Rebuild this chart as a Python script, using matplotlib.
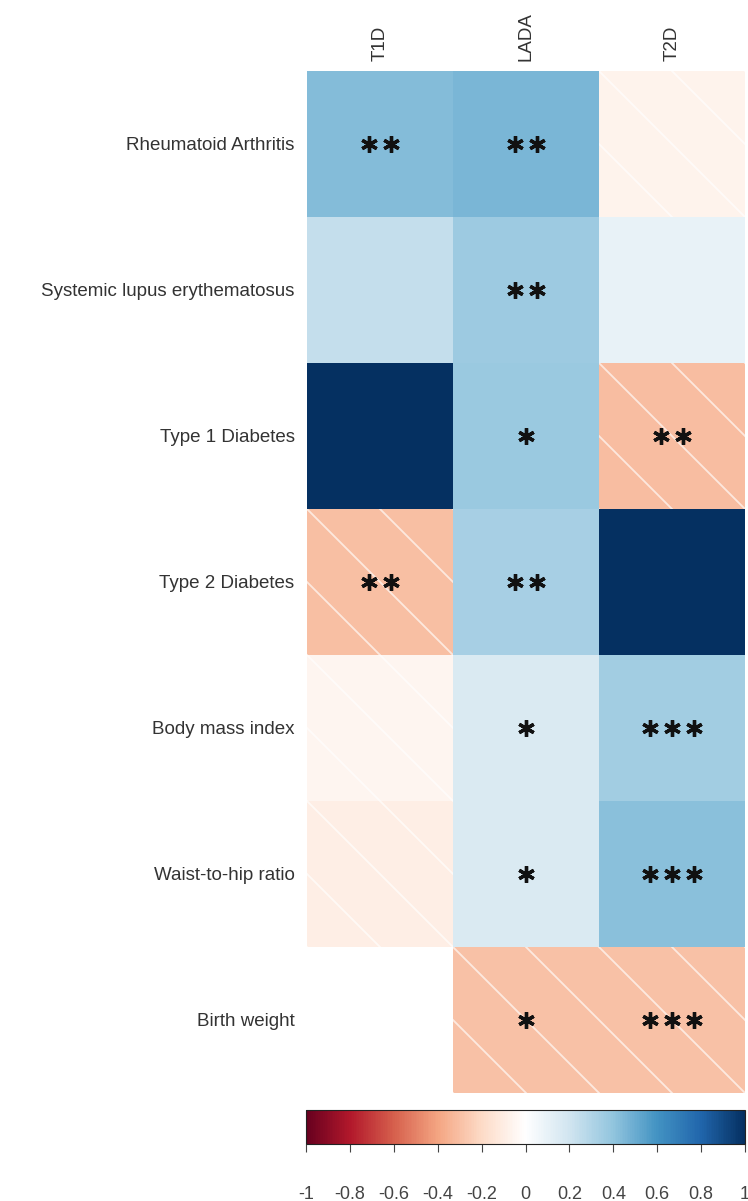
"""Genetic correlation heatmap of diabetes subtypes against related traits."""

import matplotlib.pyplot as plt
import numpy as np
from matplotlib.colors import LinearSegmentedColormap
from matplotlib.patches import Rectangle

plt.rcParams["font.family"] = ["Liberation Sans", "DejaVu Sans"]

traits = [
    "Rheumatoid Arthritis",
    "Systemic lupus erythematosus",
    "Type 1 Diabetes",
    "Type 2 Diabetes",
    "Body mass index",
    "Waist-to-hip ratio",
    "Birth weight",
]
groups = ["T1D", "LADA", "T2D"]

# genetic correlation (rg) per trait, one list per diabetes group
rg_t1d = [0.43, 0.24, 1.00, -0.30, -0.05, -0.09, np.nan]
rg_lada = [0.46, 0.36, 0.37, 0.33, 0.16, 0.16, -0.29]
rg_t2d = [-0.07, 0.10, -0.31, 1.00, 0.35, 0.42, -0.29]

# significance stars per cell
stars_t1d = ["**", "", "", "**", "", "", ""]
stars_lada = ["**", "**", "*", "**", "*", "*", "*"]
stars_t2d = ["", "", "**", "", "***", "***", "***"]

cbar_ticks = [-1, -0.8, -0.6, -0.4, -0.2, 0, 0.2, 0.4, 0.6, 0.8, 1]

# red-white-blue palette with a pure white midpoint
rdbu = LinearSegmentedColormap.from_list("rdbu_white", [
    "#67001F", "#B2182B", "#D6604D", "#F4A582", "#FDDBC7", "#FFFFFF",
    "#D1E5F0", "#92C5DE", "#4393C3", "#2166AC", "#053061",
])

rg = np.column_stack([rg_t1d, rg_lada, rg_t2d])
stars = np.column_stack([stars_t1d, stars_lada, stars_t2d])

W, H = 748, 1201
fig = plt.figure(figsize=(W / 100, H / 100), dpi=100)
ax = fig.add_axes([307 / W, 1 - 1093 / H, 438 / W, 1022 / H])

im = ax.imshow(rg, cmap=rdbu, vmin=-1, vmax=1, aspect="auto",
               interpolation="nearest")

# white diagonal stripes over the negative cells
n_rows, n_cols = rg.shape
for i in range(n_rows):
    for j in range(n_cols):
        if not rg[i, j] < 0:
            continue
        clip = Rectangle((j - 0.5, i - 0.5), 1, 1, transform=ax.transData,
                         fill=False, edgecolor="none")
        ax.add_patch(clip)
        for k in range(-30, 30):
            c = k / 2
            ln, = ax.plot([-1 + c, 9 + c], [-1, 9], color="white",
                          lw=1.3, alpha=0.65, solid_capstyle="butt")
            ln.set_clip_path(clip)

# significance asterisks
gap = 0.154
for i in range(n_rows):
    for j in range(n_cols):
        n = len(stars[i, j])
        for k in range(n):
            ax.plot(j + (k - (n - 1) / 2) * gap, i, marker=(6, 2, 0),
                    markersize=12, markeredgewidth=2.4, color="#111111",
                    linestyle="none")

ax.set_xlim(-0.5, n_cols - 0.5)
ax.set_ylim(n_rows - 0.5, -0.5)
ax.set_xticks(range(n_cols))
ax.set_xticklabels(groups, rotation=90, fontsize=13.5, color="#333333")
ax.set_yticks(range(n_rows))
ax.set_yticklabels(traits, fontsize=13.5, color="#333333")
ax.xaxis.tick_top()
ax.tick_params(length=0)
ax.tick_params(axis="x", pad=7)
ax.tick_params(axis="y", pad=9)
for s in ax.spines.values():
    s.set_visible(False)

cax = fig.add_axes([306 / W, 1 - 1144 / H, 439 / W, 34 / H])
cbar = fig.colorbar(im, cax=cax, orientation="horizontal", ticks=cbar_ticks)
cbar.set_ticklabels(["%g" % t for t in cbar_ticks])
cbar.outline.set_linewidth(0.8)
cbar.outline.set_edgecolor("#222222")
cax.tick_params(direction="out", length=6, width=0.8, color="#444444",
                labelsize=13, labelcolor="#444444", pad=24)

fig.savefig("out.png", dpi=100, facecolor="white")
